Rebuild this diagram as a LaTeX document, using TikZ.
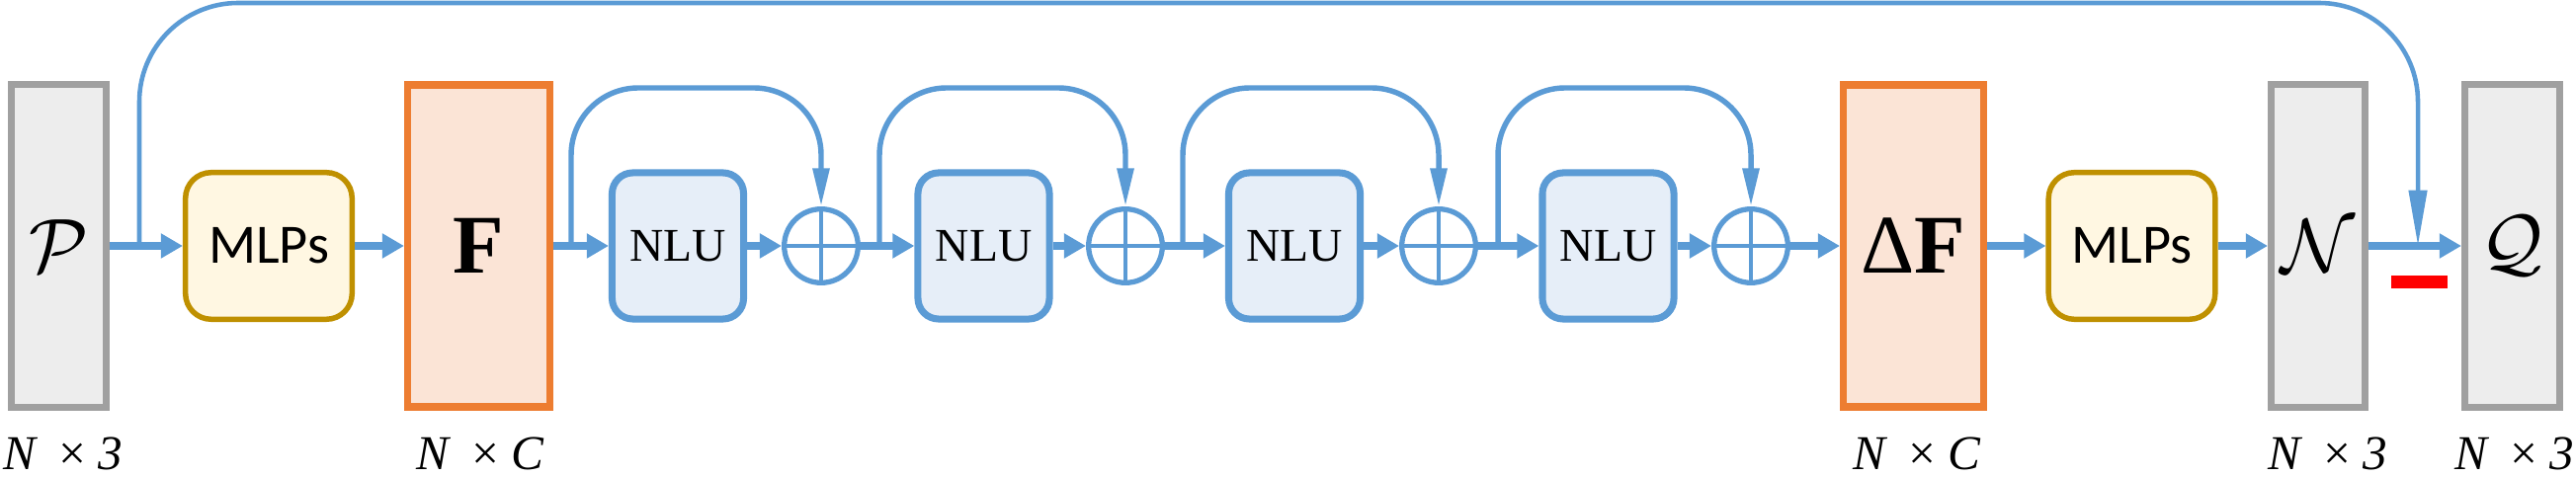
\documentclass[tikz,border=0pt]{standalone}
\usepackage{graphicx}
\usepackage{fontspec}
\setmainfont{Liberation Serif}
\newfontfamily\calibri{Carlito}
\usetikzlibrary{arrows.meta}
\definecolor{lblue}{HTML}{5B9BD5}
\definecolor{grayline}{HTML}{A0A0A0}
\definecolor{grayfill}{HTML}{EDEDED}
\definecolor{orline}{HTML}{ED7D31}
\definecolor{orfill}{HTML}{FBE4D6}
\definecolor{goldline}{HTML}{BF9000}
\definecolor{goldfill}{HTML}{FFF7E2}
\definecolor{nlufill}{HTML}{E6EEF8}
\newcommand{\calsym}[1]{\scalebox{2.2}{$\mathcal{#1}$}}
\begin{document}
\begin{tikzpicture}[x=0.01cm,y=-0.01cm,
  graybox/.style={draw=grayline, fill=grayfill, line width=2pt, inner sep=0pt,
    minimum width=0.96cm, minimum height=3.26cm},
  orbox/.style={draw=orline, fill=orfill, line width=2.13pt, inner sep=0pt,
    minimum width=1.435cm, minimum height=3.255cm, font=\fontsize{24}{28}\selectfont},
  mlpbox/.style={draw=goldline, fill=goldfill, line width=1.56pt, inner sep=0pt,
    rounded corners=0.26cm, minimum width=1.685cm, minimum height=1.485cm,
    font=\calibri\fontsize{16}{19}\selectfont},
  nlubox/.style={draw=lblue, fill=nlufill, line width=2pt, inner sep=0pt,
    rounded corners=0.21cm, minimum width=1.33cm, minimum height=1.48cm,
    font=\fontsize{13.5}{16}\selectfont},
  sumnode/.style={draw=lblue, fill=white, line width=1.5pt, circle, inner sep=0pt,
    minimum size=0.746cm},
  mainarr/.style={draw=lblue, line width=2pt, -{Triangle[length=6.3pt,width=6.8pt]}},
  looparr/.style={draw=lblue, line width=1.55pt, rounded corners=0.68cm,
    -{Triangle[length=11pt,width=4.6pt]}},
  toparr/.style={draw=lblue, line width=1.3pt, rounded corners=1cm,
    -{Triangle[length=16pt,width=5.1pt]}},
  crossline/.style={draw=lblue, line width=1.35pt},
  lbl/.style={anchor=base, inner sep=0pt, font=\itshape\fontsize{14}{16}\selectfont}
]
\useasboundingbox (0,0) rectangle (2607,483);

% boxes
\node[graybox] (P) at (59.5,249) {\calsym{P}};
\node[mlpbox] (M1) at (272,249) {MLPs};
\node[orbox] (F) at (484.5,249) {\textbf{F}};
\node[nlubox] (U1) at (686,249) {NLU};
\node[sumnode] (C1) at (831,249) {};
\node[nlubox] (U2) at (995.5,249) {NLU};
\node[sumnode] (C2) at (1139,249) {};
\node[nlubox] (U3) at (1310,249) {NLU};
\node[sumnode] (C3) at (1456,249) {};
\node[nlubox] (U4) at (1627.5,249) {NLU};
\node[sumnode] (C4) at (1772,249) {};
\node[orbox, minimum width=1.415cm] (DF) at (1936.5,249) {Δ\textbf{F}};
\node[mlpbox] (M2) at (2157.5,249) {MLPs};
\node[graybox, minimum width=0.95cm] (N) at (2346,249) {\calsym{N}};
\node[graybox] (Q) at (2542.5,249) {\calsym{Q}};
\node[fill=red, inner sep=0pt, minimum width=0.57cm, minimum height=0.13cm] (minus) at (2448.5,285.5) {};

% cross in sums
\foreach \c in {C1,C2,C3,C4}{
  \draw[crossline] (\c.north) -- (\c.south);
  \draw[crossline] (\c.west) -- (\c.east);
}

% main chain
\draw[mainarr] (P.east) -- (M1.west);
\draw[mainarr] (M1.east) -- (F.west);
\draw[mainarr] (F.east) -- (U1.west);
\draw[mainarr] (U1.east) -- (C1.west);
\draw[mainarr] (C1.east) -- (U2.west);
\draw[mainarr] (U2.east) -- (C2.west);
\draw[mainarr] (C2.east) -- (U3.west);
\draw[mainarr] (U3.east) -- (C3.west);
\draw[mainarr] (C3.east) -- (U4.west);
\draw[mainarr] (U4.east) -- (C4.west);
\draw[mainarr] (C4.east) -- (DF.west);
\draw[mainarr] (DF.east) -- (M2.west);
\draw[mainarr] (M2.east) -- (N.west);
\draw[mainarr] (N.east) -- (Q.west);

% skip loops
\coordinate (s1) at (578,249);
\coordinate (s2) at (890,249);
\coordinate (s3) at (1197,249);
\coordinate (s4) at (1516,249);
\draw[looparr] (s1) -- (578,89) -- (C1.center |- 0,89) -- (C1.north);
\draw[looparr] (s2) -- (890,89) -- (C2.center |- 0,89) -- (C2.north);
\draw[looparr] (s3) -- (1197,89) -- (C3.center |- 0,89) -- (C3.north);
\draw[looparr] (s4) -- (1516,89) -- (C4.center |- 0,89) -- (C4.north);

% long skip
\coordinate (t0) at (141,249);
\coordinate (t1) at (2447,249);
\draw[toparr] (t0) -- (141,3) -- (2447,3) -- (t1);

% labels
\node[lbl] (lP) at (64,476) {N\hspace{0.4em}×\hspace{0.2em}3};
\node[lbl] (lF) at (486,476) {N\hspace{0.4em}×\hspace{0.2em}C};
\node[lbl] (lDF) at (1940,476) {N\hspace{0.4em}×\hspace{0.2em}C};
\node[lbl] (lN) at (2356,476) {N\hspace{0.4em}×\hspace{0.2em}3};
\node[lbl] (lQ) at (2545,476) {N\hspace{0.4em}×\hspace{0.2em}3};
\end{tikzpicture}
\end{document}
